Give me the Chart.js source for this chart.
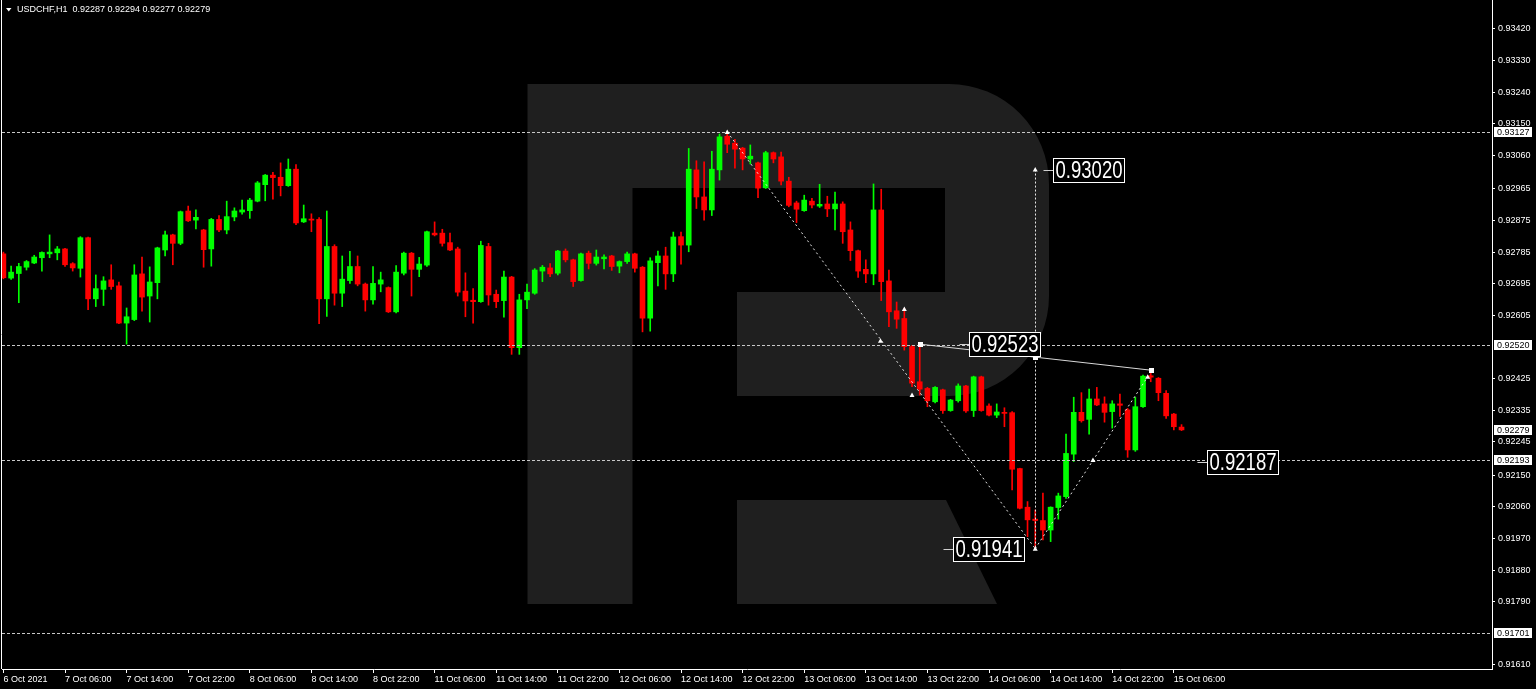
<!DOCTYPE html>
<html>
<head>
<meta charset="utf-8">
<script src="https://cdn.jsdelivr.net/npm/chart.js@4.4.0/dist/chart.umd.min.js"></script>
<style>
  html, body { margin: 0; padding: 0; background: #000; overflow: hidden; }
  #chart { display: block; }
</style>
</head>
<body>
<canvas id="chart" width="1536" height="689"></canvas>
<script>
// USDCHF H1 candles, 6 Oct 22:00 .. 15 Oct 07:00
const symbol = 'USDCHF,H1';

const opens = [
  0.92780,0.92711,0.92724,0.92742,0.92754,0.92769,0.92780,0.92783,0.92794,0.92752,
  0.92739,0.92826,0.92652,0.92679,0.92706,0.92689,0.92583,0.92593,0.92723,0.92660,
  0.92698,0.92791,0.92834,0.92810,0.92902,0.92876,0.92848,0.92794,0.92878,0.92848,
  0.92885,0.92899,0.92903,0.92930,0.92977,0.93004,0.92998,0.92974,0.93021,0.92871,
  0.92879,0.92878,0.92652,0.92801,0.92668,0.92704,0.92744,0.92694,0.92649,0.92694,
  0.92684,0.92615,0.92725,0.92782,0.92736,0.92748,0.92839,0.92839,0.92812,0.92794,
  0.92674,0.92648,0.92644,0.92801,0.92665,0.92647,0.92714,0.92513,0.92649,0.92668,
  0.92731,0.92740,0.92725,0.92788,0.92763,0.92704,0.92782,0.92753,0.92766,0.92774,
  0.92745,0.92758,0.92780,0.92742,0.92597,0.92755,0.92774,0.92723,0.92829,0.92805,
  0.93019,0.92942,0.92905,0.93019,0.93115,0.93095,0.93081,0.93050,0.93039,0.92968,
  0.93068,0.93056,0.92987,0.92925,0.92903,0.92930,0.92916,0.92922,0.92908,0.92922,
  0.92848,0.92789,0.92736,0.92723,0.92905,0.92703,0.92618,0.92596,0.92516,0.92416,
  0.92397,0.92359,0.92393,0.92334,0.92362,0.92404,0.92334,0.92430,0.92347,0.92321,
  0.92329,0.92328,0.92169,0.92059,0.92025,0.92021,0.91994,0.92058,0.92089,0.92210,
  0.92329,0.92309,0.92367,0.92353,0.92331,0.92353,0.92336,0.92222,0.92345,0.92433,
  0.92426,0.92383,0.92324,0.92287
];
const highs = [
  0.92785,0.92745,0.92753,0.92761,0.92776,0.92786,0.92834,0.92801,0.92796,0.92755,
  0.92829,0.92828,0.92720,0.92715,0.92749,0.92700,0.92626,0.92749,0.92771,0.92743,
  0.92799,0.92845,0.92836,0.92902,0.92916,0.92905,0.92850,0.92881,0.92889,0.92930,
  0.92911,0.92933,0.92938,0.92986,0.93006,0.93012,0.93039,0.93050,0.93034,0.92919,
  0.92894,0.92883,0.92902,0.92806,0.92774,0.92787,0.92774,0.92697,0.92744,0.92728,
  0.92686,0.92747,0.92785,0.92784,0.92770,0.92845,0.92871,0.92850,0.92839,0.92799,
  0.92726,0.92681,0.92816,0.92810,0.92677,0.92731,0.92716,0.92665,0.92694,0.92738,
  0.92747,0.92752,0.92790,0.92794,0.92765,0.92782,0.92788,0.92791,0.92777,0.92776,
  0.92760,0.92785,0.92782,0.92744,0.92769,0.92788,0.92799,0.92842,0.92842,0.93080,
  0.93045,0.93042,0.93072,0.93121,0.93127,0.93106,0.93083,0.93090,0.93041,0.93072,
  0.93070,0.93070,0.92998,0.92930,0.92947,0.92938,0.92978,0.92944,0.92956,0.92928,
  0.92871,0.92791,0.92763,0.92979,0.92964,0.92734,0.92643,0.92625,0.92520,0.92523,
  0.92400,0.92402,0.92395,0.92366,0.92410,0.92406,0.92432,0.92432,0.92353,0.92353,
  0.92342,0.92331,0.92170,0.92075,0.92051,0.92099,0.92060,0.92099,0.92267,0.92372,
  0.92385,0.92395,0.92400,0.92373,0.92362,0.92381,0.92340,0.92372,0.92435,0.92442,
  0.92428,0.92391,0.92326,0.92294
];
const lows = [
  0.92709,0.92707,0.92641,0.92734,0.92752,0.92731,0.92769,0.92763,0.92744,0.92731,
  0.92714,0.92621,0.92630,0.92633,0.92679,0.92581,0.92523,0.92590,0.92617,0.92586,
  0.92652,0.92774,0.92749,0.92806,0.92872,0.92851,0.92742,0.92745,0.92843,0.92837,
  0.92874,0.92893,0.92881,0.92928,0.92931,0.92936,0.92945,0.92972,0.92863,0.92869,
  0.92843,0.92581,0.92602,0.92634,0.92630,0.92696,0.92689,0.92617,0.92637,0.92672,
  0.92613,0.92612,0.92720,0.92660,0.92715,0.92744,0.92831,0.92802,0.92789,0.92660,
  0.92601,0.92583,0.92642,0.92634,0.92627,0.92600,0.92494,0.92494,0.92624,0.92665,
  0.92701,0.92715,0.92720,0.92757,0.92687,0.92702,0.92737,0.92748,0.92737,0.92733,
  0.92726,0.92753,0.92728,0.92558,0.92560,0.92689,0.92679,0.92701,0.92751,0.92786,
  0.92909,0.92876,0.92889,0.92990,0.93068,0.93024,0.93019,0.93036,0.92940,0.92966,
  0.93039,0.92976,0.92914,0.92869,0.92901,0.92911,0.92912,0.92886,0.92848,0.92810,
  0.92761,0.92713,0.92698,0.92692,0.92647,0.92573,0.92568,0.92506,0.92402,0.92378,
  0.92345,0.92356,0.92326,0.92332,0.92358,0.92329,0.92317,0.92332,0.92319,0.92314,
  0.92288,0.92108,0.92054,0.91975,0.91941,0.91966,0.91961,0.92025,0.92084,0.92189,
  0.92301,0.92267,0.92348,0.92301,0.92284,0.92317,0.92201,0.92218,0.92343,0.92416,
  0.92362,0.92312,0.92279,0.92277
];
const closes = [
  0.92712,0.92728,0.92744,0.92758,0.92771,0.92784,0.92785,0.92794,0.92749,0.92740,
  0.92826,0.92652,0.92681,0.92703,0.92687,0.92583,0.92601,0.92720,0.92657,0.92700,
  0.92797,0.92834,0.92810,0.92900,0.92874,0.92884,0.92792,0.92878,0.92848,0.92886,
  0.92902,0.92905,0.92933,0.92982,0.93004,0.92997,0.92974,0.93021,0.92868,0.92880,
  0.92876,0.92652,0.92801,0.92668,0.92708,0.92744,0.92694,0.92649,0.92696,0.92706,
  0.92615,0.92728,0.92782,0.92736,0.92751,0.92843,0.92834,0.92810,0.92791,0.92671,
  0.92646,0.92644,0.92804,0.92663,0.92644,0.92714,0.92513,0.92649,0.92671,0.92734,
  0.92742,0.92723,0.92788,0.92763,0.92701,0.92780,0.92753,0.92771,0.92771,0.92744,
  0.92758,0.92780,0.92739,0.92597,0.92760,0.92774,0.92723,0.92828,0.92805,0.93021,
  0.92942,0.92905,0.93021,0.93113,0.93092,0.93078,0.93050,0.93058,0.92967,0.93068,
  0.93050,0.92987,0.92918,0.92907,0.92933,0.92919,0.92921,0.92908,0.92922,0.92843,
  0.92789,0.92731,0.92723,0.92905,0.92701,0.92615,0.92594,0.92516,0.92412,0.92395,
  0.92362,0.92400,0.92334,0.92364,0.92404,0.92333,0.92430,0.92334,0.92321,0.92330,
  0.92326,0.92167,0.92056,0.92023,0.92021,0.91994,0.92059,0.92091,0.92212,0.92329,
  0.92305,0.92367,0.92350,0.92329,0.92353,0.92349,0.92222,0.92345,0.92432,0.92429,
  0.92385,0.92319,0.92288,0.92279
];

// time axis labels (every 8th bar)
const timeTickIdx = [0,8,16,24,32,40,48,56,64,72,80,88,96,104,112,120,128,136,144,152];
const timeLabels = ['6 Oct 2021','7 Oct 06:00','7 Oct 14:00','7 Oct 22:00','8 Oct 06:00','8 Oct 14:00',
  '8 Oct 22:00','11 Oct 06:00','11 Oct 14:00','11 Oct 22:00','12 Oct 06:00','12 Oct 14:00',
  '12 Oct 22:00','13 Oct 06:00','13 Oct 14:00','13 Oct 22:00','14 Oct 06:00','14 Oct 14:00',
  '14 Oct 22:00','15 Oct 06:00'];

// price axis labels
const priceTicks = [0.93420,0.93330,0.93240,0.93150,0.93060,0.92965,0.92875,0.92785,0.92695,0.92605,
  0.92425,0.92335,0.92245,0.92150,0.92060,0.91970,0.91880,0.91790,0.91610];
const priceMin = 0.915985;
const priceMax = 0.935025;

// drawn objects
const hLevels = [0.93127, 0.92520, 0.92193, 0.91701];
const axisMarks = [0.93127, 0.92520, closes[closes.length - 1], 0.92193, 0.91701];
const dashTrend1 = [[94, 0.93127], [134, 0.91941]];
const dashTrend2 = [[134, 0.91941], [148.6, 0.92430]];
const solidLine = [[119, 0.92523], [149, 0.92449]];
const vLine = [134, 0.93020, 0.91941];
const anchors = [[94, 0.93127], [134, 0.93020], [113.9, 0.92533], [117, 0.92623], [118, 0.92378], [141.5, 0.92193], [134, 0.91941], [148.6, 0.92430]];
const priceLabels = [
  { i: 135.0, p: 0.93020, text: '0.93020' },
  { i: 124.1, p: 0.92523, text: '0.92523' },
  { i: 122.0, p: 0.91941, text: '0.91941' },
  { i: 155.0, p: 0.92187, text: '0.92187' }
];

const UP = '#00ff00';
const DOWN = '#ff0000';
const idx = opens.map((o, i) => i);
const candleColors = idx.map(i => closes[i] >= opens[i] ? UP : DOWN);
const smallFont = '9px "Liberation Sans", Arial, sans-serif';

function drawLogo(c) {
  c.fillStyle = '#1f1f1f';
  c.beginPath();
  c.moveTo(527.5, 84);
  c.lineTo(949, 84);
  c.arcTo(1049, 84, 1049, 184, 100);
  c.lineTo(1049, 296);
  c.arcTo(1049, 396, 949, 396, 100);
  c.lineTo(737, 396);
  c.lineTo(737, 292);
  c.lineTo(945, 292);
  c.lineTo(945, 188);
  c.lineTo(632.5, 188);
  c.lineTo(632.5, 604);
  c.lineTo(527.5, 604);
  c.closePath();
  c.fill();
  c.beginPath();
  c.moveTo(737, 500);
  c.lineTo(946, 500);
  c.lineTo(997, 604);
  c.lineTo(737, 604);
  c.closePath();
  c.fill();
}

const overlay = {
  id: 'overlay',
  beforeDraw(chart) {
    const c = chart.ctx;
    c.save();
    c.fillStyle = '#000';
    c.fillRect(0, 0, chart.width, chart.height);
    drawLogo(c);
    c.restore();
  },
  afterDatasetsDraw(chart) {
    const c = chart.ctx;
    const xs = chart.scales.x, ys = chart.scales.y;
    const area = chart.chartArea;
    const px = v => xs.getPixelForValue(v);
    const py = v => ys.getPixelForValue(v);
    c.save();
    c.lineWidth = 1;

    // horizontal levels
    c.strokeStyle = '#c8c8c8';
    c.setLineDash([3, 2]);
    hLevels.forEach(p => {
      const y = Math.round(py(p)) + 0.5;
      c.beginPath();
      c.moveTo(area.left, y);
      c.lineTo(area.right, y);
      c.stroke();
    });

    // dotted trend lines
    c.strokeStyle = '#e6e6e6';
    c.setLineDash([2, 3]);
    [dashTrend1, dashTrend2].forEach(seg => {
      c.beginPath();
      c.moveTo(px(seg[0][0]), py(seg[0][1]));
      c.lineTo(px(seg[1][0]), py(seg[1][1]));
      c.stroke();
    });

    // vertical dotted line
    c.setLineDash([2, 2]);
    const vx = Math.round(px(vLine[0])) + 0.5;
    c.beginPath();
    c.moveTo(vx, py(vLine[1]));
    c.lineTo(vx, py(vLine[2]));
    c.stroke();

    // solid line with squares
    c.setLineDash([]);
    c.strokeStyle = '#d8d8d8';
    const a = solidLine[0], b = solidLine[1];
    c.beginPath();
    c.moveTo(px(a[0]), py(a[1]));
    c.lineTo(px(b[0]), py(b[1]));
    c.stroke();
    const t = (vLine[0] - a[0]) / (b[0] - a[0]);
    const mid = [vLine[0], a[1] + (b[1] - a[1]) * t];
    c.fillStyle = '#ffffff';
    [a, mid, b].forEach(pt => {
      c.fillRect(Math.round(px(pt[0])) - 2, Math.round(py(pt[1])) - 2, 5, 5);
    });

    // small anchor marks
    anchors.forEach(pt => {
      const x = px(pt[0]), y = py(pt[1]);
      c.beginPath();
      c.moveTo(x - 2.5, y + 2);
      c.lineTo(x + 2.5, y + 2);
      c.lineTo(x, y - 2.5);
      c.closePath();
      c.fill();
    });

    // boxed price labels
    priceLabels.forEach(l => {
      const x = Math.round(px(l.i)) + 0.5;
      const y = Math.round(py(l.p)) + 0.5;
      c.strokeStyle = '#d0d0d0';
      c.beginPath();
      c.moveTo(x, y);
      c.lineTo(x + 10, y);
      c.stroke();
      const bx = x + 10, by = y - 12, bw = 71, bh = 24;
      c.fillStyle = '#000';
      c.fillRect(bx, by, bw, bh);
      c.strokeStyle = '#ffffff';
      c.strokeRect(bx, by, bw, bh);
      c.fillStyle = '#ffffff';
      c.font = '23px "Liberation Sans Narrow", "Liberation Sans", Arial, sans-serif';
      c.textAlign = 'left';
      c.textBaseline = 'middle';
      c.fillText(l.text, bx + 2, y + 1, 67);
    });
    c.restore();
  },
  afterDraw(chart) {
    const c = chart.ctx;
    const ys = chart.scales.y;
    const area = chart.chartArea;
    c.save();
    // left frame line
    c.strokeStyle = '#ffffff';
    c.lineWidth = 1;
    c.beginPath();
    c.moveTo(area.left - 0.5, 0);
    c.lineTo(area.left - 0.5, area.bottom);
    c.stroke();

    // white boxes on the price axis
    c.font = smallFont;
    c.textAlign = 'left';
    c.textBaseline = 'middle';
    axisMarks.forEach(p => {
      const y = Math.round(ys.getPixelForValue(p));
      c.fillStyle = '#ffffff';
      c.fillRect(area.right + 2, y - 5, 38, 10);
      c.fillStyle = '#000000';
      c.fillText(p.toFixed(5), area.right + 5, y + 0.5);
    });

    // header
    const last = opens.length - 1;
    c.fillStyle = '#ffffff';
    c.beginPath();
    c.moveTo(6, 8);
    c.lineTo(11.5, 8);
    c.lineTo(8.75, 11.5);
    c.closePath();
    c.fill();
    c.fillStyle = '#ffffff';
    c.fillText(symbol + '  ' + [opens[last], highs[last], lows[last], closes[last]].map(v => v.toFixed(5)).join(' '), 17, 10);
    c.restore();
  }
};

// keep the plot area glued to the canvas edges (no label overhang padding)
function noPad(s) {
  s.paddingTop = 0;
  s.paddingBottom = 0;
  s.paddingLeft = 0;
  s.paddingRight = 0;
}

const ctx = document.getElementById('chart').getContext('2d');
new Chart(ctx, {
  type: 'bar',
  data: {
    datasets: [
      {
        label: 'wick',
        data: idx.map(i => ({ x: i, y: [lows[i], highs[i]] })),
        backgroundColor: candleColors,
        barThickness: 1,
        grouped: false,
        order: 2
      },
      {
        label: 'body',
        data: idx.map(i => ({ x: i, y: [opens[i], closes[i]] })),
        backgroundColor: candleColors,
        barThickness: 5,
        minBarLength: 1,
        grouped: false,
        order: 1
      }
    ]
  },
  options: {
    responsive: false,
    animation: false,
    devicePixelRatio: 1,
    layout: { padding: { left: 2, top: 0, right: 0, bottom: 0 } },
    plugins: { legend: { display: false }, tooltip: { enabled: false } },
    scales: {
      x: {
        type: 'linear',
        min: -0.182,
        max: 193.32,
        offset: false,
        grid: { display: true, offset: false, drawOnChartArea: false, drawTicks: true, tickLength: 4, tickColor: '#ffffff' },
        border: { display: true, color: '#ffffff', width: 1 },
        afterBuildTicks: s => { s.ticks = timeTickIdx.map(v => ({ value: v })); },
        afterFit: s => { s.height = 20; noPad(s); },
        ticks: {
          align: 'start',
          padding: 1,
          autoSkip: false,
          maxRotation: 0,
          color: '#ffffff',
          font: { family: '"Liberation Sans", Arial, sans-serif', size: 9 },
          callback: (v, i) => timeLabels[i]
        }
      },
      y: {
        position: 'right',
        min: priceMin,
        max: priceMax,
        grid: { display: true, drawOnChartArea: false, drawTicks: true, tickLength: 3, tickColor: '#ffffff' },
        border: { display: true, color: '#ffffff', width: 1 },
        afterBuildTicks: s => { s.ticks = priceTicks.map(v => ({ value: v })); },
        afterFit: s => { s.width = 44; noPad(s); },
        ticks: {
          padding: 3,
          color: '#ffffff',
          font: { family: '"Liberation Sans", Arial, sans-serif', size: 9 },
          callback: v => v.toFixed(5)
        }
      }
    }
  },
  plugins: [overlay]
});
</script>
</body>
</html>
